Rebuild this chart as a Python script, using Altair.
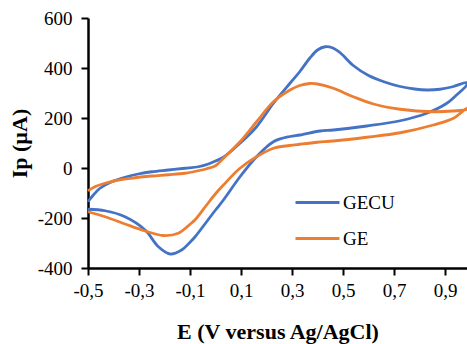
import altair as alt
import pandas as pd

series_names = ["GECU", "GE"]
series_colors = ["#4472C4", "#ED7D31"]

# GECU: forward (anodic) branch, E increasing
gecu_fwd_E = [-0.5, -0.479, -0.453, -0.407, -0.355, -0.303, -0.25, -0.185, -0.12, -0.067, -0.028,
              0.0, 0.031, 0.096, 0.161, 0.227, 0.292, 0.33, 0.37, 0.40, 0.43, 0.46, 0.49, 0.54,
              0.60, 0.66, 0.72, 0.78, 0.83, 0.88, 0.93, 0.985]
gecu_fwd_I = [-135, -108, -81, -55, -37, -24, -15, -8, -1, 5, 16,
              28, 43, 99, 165, 259, 339, 385, 440, 472, 485, 480, 460, 410,
              370, 345, 327, 316, 312, 315, 325, 341]
# GECU: reverse (cathodic) branch, E decreasing
gecu_rev_E = [0.985, 0.945, 0.907, 0.828, 0.724, 0.593, 0.462, 0.41, 0.331, 0.292, 0.227, 0.161,
              0.096, 0.031, 0.0, -0.035, -0.08, -0.1, -0.133, -0.178, -0.224, -0.276, -0.355,
              -0.433, -0.5]
gecu_rev_I = [332, 292, 259, 219, 189, 168, 152, 148, 132, 126, 105, 45,
              -35, -128, -168, -215, -275, -297, -328, -344, -315, -248, -195,
              -171, -165]

# GE: forward branch
ge_fwd_E = [-0.5, -0.473, -0.433, -0.38, -0.316, -0.25, -0.185, -0.12, -0.054, -0.035, 0.0,
            0.031, 0.096, 0.161, 0.227, 0.292, 0.33, 0.37, 0.40, 0.462, 0.54, 0.619, 0.724,
            0.854, 0.93, 0.985]
ge_fwd_I = [-91, -75, -61, -48, -39, -32, -27, -21, -8, -3, 9,
            39, 105, 185, 265, 312, 330, 338, 336, 319, 285, 256, 235,
            225, 228, 235]
# GE: reverse branch
ge_rev_E = [0.985, 0.933, 0.854, 0.724, 0.593, 0.462, 0.40, 0.33, 0.29, 0.227, 0.161, 0.096,
            0.031, 0.0, -0.035, -0.08, -0.1, -0.146, -0.205, -0.276, -0.355, -0.433, -0.5]
ge_rev_I = [239, 199, 172, 141, 123, 108, 103, 95, 90, 79, 45, -1,
            -68, -103, -148, -207, -225, -261, -270, -252, -224, -195, -175]

x_ticks = [-0.5, -0.3, -0.1, 0.1, 0.3, 0.5, 0.7, 0.9]
y_ticks = [-400, -200, 0, 200, 400, 600]

rows = []
for name, ef, i_f, er, i_r in [
    ("GECU", gecu_fwd_E, gecu_fwd_I, gecu_rev_E, gecu_rev_I),
    ("GE", ge_fwd_E, ge_fwd_I, ge_rev_E, ge_rev_I),
]:
    seq = list(zip(ef, i_f)) + list(zip(er, i_r))
    for k, (e, i) in enumerate(seq):
        rows.append({"series": name, "E": e, "I": i, "k": k})
df = pd.DataFrame(rows)

font = "Liberation Serif"

chart = alt.Chart(df).mark_line(strokeWidth=2.8, interpolate="catmull-rom").encode(
    x=alt.X("E:Q",
            scale=alt.Scale(domain=[-0.5, 0.986], nice=False, zero=False),
            axis=alt.Axis(values=x_ticks, title="E (V versus Ag/AgCl)",
                          labelExpr="replace(replace(format(datum.value, '.1f'), '.', ','), '\u2212', '-')",
                          labelFlush=False, labelPadding=6, titlePadding=21)),
    y=alt.Y("I:Q",
            scale=alt.Scale(domain=[-400, 600], nice=False),
            axis=alt.Axis(values=y_ticks, title="Ip (\u00b5A)",
                          labelExpr="replace(format(datum.value, 'd'), '\u2212', '-')",
                          labelPadding=9, titlePadding=6)),
    color=alt.Color("series:N",
                    scale=alt.Scale(domain=series_names, range=series_colors),
                    legend=alt.Legend(title=None, orient="none", legendX=206, legendY=161,
                                      symbolType="stroke", symbolSize=1936, symbolStrokeWidth=3,
                                      labelFont=font, labelFontSize=19, labelColor="black",
                                      labelOffset=2, rowPadding=2)),
    order="k:Q",
).properties(
    width=379, height=250,
    padding={"left": 88, "top": 18, "right": 0, "bottom": 76},
    autosize="none",
).configure_axis(
    domainColor="black", domainWidth=2.5, tickColor="black", tickWidth=2, tickSize=7,
    labelFont=font, labelFontSize=19, labelColor="black",
    titleFont=font, titleFontSize=22, titleFontWeight="bold", titleColor="black",
    grid=False,
).configure_view(stroke=None)

chart.save("out.html", embed_options={"renderer": "svg", "actions": False})
